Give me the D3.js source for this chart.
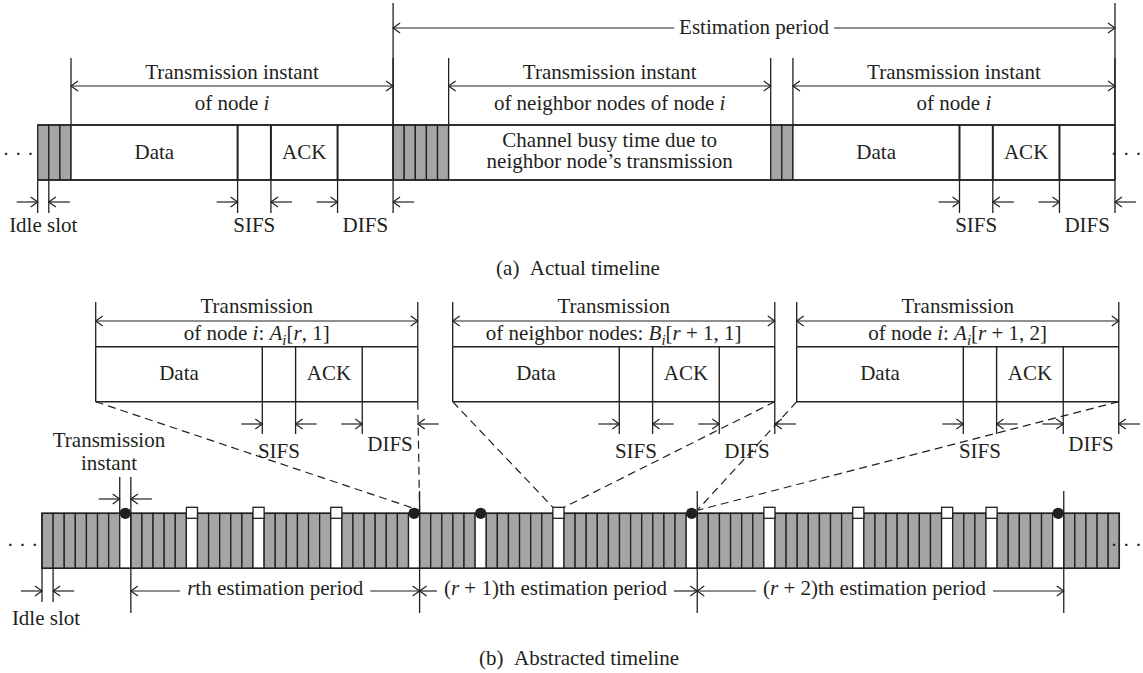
<!DOCTYPE html>
<html>
<head>
<meta charset="utf-8">
<script src="https://cdn.jsdelivr.net/npm/d3@7"></script>
<style>
  body { margin: 0; background: #fff; }
  svg { display: block; }
  text { font-family: "Liberation Serif", "Times New Roman", serif; font-size: 21px; fill: #231f20; white-space: pre; }
</style>
</head>
<body>
<svg id="chart" width="1143" height="673"></svg>
<script>
const INK = "#231f20";
const GREY = "#a5a5a5";

// One frame exchange, in slot units
const frameParts = ["Data", "SIFS", "ACK", "DIFS"];
const frameSlots = [15, 3, 6, 5];

// (a) actual timeline: runs of slots
const actualKinds = ["idle", "tx", "idle", "busy", "idle", "tx"];
const actualSlots = [3, 29, 5, 29, 2, 29];
const actualSpanTitles = [
  null,
  [["of node ", ""], ["i", "i"]],
  null,
  [["of neighbor nodes of node ", ""], ["i", "i"]],
  null,
  [["of node ", ""], ["i", "i"]]
];
const busyLines = ["Channel busy time due to", "neighbor node\u2019s transmission"];

// (b) abstracted timeline
const slotCount = 97;
const ownTxSlots = [7, 33, 39, 58, 91];
const neighborTxSlots = [13, 19, 26, 46, 65, 73, 81, 85];
const periodEndSlots = [7, 33, 58, 91];
const periodLabels = [
  [["r", "i"], ["th estimation period", ""]],
  [["(", ""], ["r", "i"], [" + 1)th estimation period", ""]],
  [["(", ""], ["r", "i"], [" + 2)th estimation period", ""]]
];
const zoomTargetSlots = [33, 46, 58];
const zoomTitles = [
  [["of node ", ""], ["i", "i"], [": ", ""], ["A", "i"], ["i", "s"], ["[", ""], ["r", "i"], [", 1]", ""]],
  [["of neighbor nodes: ", ""], ["B", "i"], ["i", "s"], ["[", ""], ["r", "i"], [" + 1, 1]", ""]],
  [["of node ", ""], ["i", "i"], [": ", ""], ["A", "i"], ["i", "s"], ["[", ""], ["r", "i"], [" + 1, 2]", ""]]
];

// ---- layout ----
const slotW = 11.106;
const xa = d3.scaleLinear().domain([0, slotCount]).range([37.7, 37.7 + slotCount * slotW]);
const xb = d3.scaleLinear().domain([0, slotCount]).range([42, 42 + slotCount * slotW]);
const frameTotal = d3.sum(frameSlots);
const xf = d3.scaleLinear().domain([0, frameTotal]).range([0, frameTotal * slotW]);
const zoomBoxLeft = [95.7, 452.7, 796.7];

const A = { estY: 28, estTop: 3, estLab: 33.5, spanY: 86, spanTop: 58, l1: 78.5, l2: 110,
            top: 125, bot: 180, markBot: 213, markY: 202, markLab: 232, caption: 275 };
const B = { l1: 313, arrowY: 321, l2: 340, spanTop: 302, top: 346.7, bot: 401.7,
            markBot: 434, markY: 424, sifsLab: 458, difsLab: [451, 458, 451] };
const C = { tiL1: 446.7, tiL2: 470, tiY: 499, tiTop: 477, top: 513.3, bot: 568.3,
            markBot: 602, markY: 591, perTop: 491, perBot: 613, lab: 595, idleLab: 625, caption: 665 };

const svg = d3.select("#chart");
const g = svg.append("g");

// ---- drawing helpers ----
function line(x0, y0, x1, y1, w = 1.3, dash = null) {
  const l = g.append("line").attr("x1", x0).attr("y1", y0).attr("x2", x1).attr("y2", y1)
    .attr("stroke", INK).attr("stroke-width", w);
  if (dash) l.attr("stroke-dasharray", dash);
  return l;
}
function head(x, y, dir, len = 7, hw = 5) {
  g.append("path")
    .attr("d", `M${x - dir * len},${y - hw}L${x},${y}L${x - dir * len},${y + hw}`)
    .attr("fill", "none").attr("stroke", INK).attr("stroke-width", 1.2);
}
// arrows pointing inwards at a gap: ->| ... |<-
function gapMarks(xl, xr, y, out = 21) {
  line(xl - out, y, xl, y, 1.2); head(xl, y, 1);
  line(xr, y, xr + out, y, 1.2); head(xr, y, -1);
}
// double arrow spanning a range
function spanArrow(xl, xr, y) {
  line(xl, y, xr, y, 1.2); head(xl, y, -1); head(xr, y, 1);
}
function rich(x, y, parts, anchor = "middle") {
  const t = g.append("text").attr("x", x).attr("y", y).attr("text-anchor", anchor);
  let shift = 0;
  parts.forEach(([s, st]) => {
    const ts = t.append("tspan").text(s);
    if (st === "i" || st === "s") ts.attr("font-style", "italic");
    const want = st === "s" ? 5 : 0;
    if (want !== shift) { ts.attr("dy", want - shift); shift = want; }
    if (st === "s") ts.attr("font-size", 15);
  });
  return t;
}
function label(x, y, s, anchor = "middle") {
  return g.append("text").attr("x", x).attr("y", y).attr("text-anchor", anchor).text(s);
}
// labelled arrow run: |<---- text ---->|
function periodArrow(x0, x1, y, baseY, parts, offset = 0, gap = 6) {
  const mid = (x0 + x1) / 2 + offset;
  const t = rich(mid, baseY, parts);
  const w = t.node().getComputedTextLength();
  line(x0, y, mid - w / 2 - gap, y, 1.2); head(x0, y, -1);
  line(mid + w / 2 + gap, y, x1, y, 1.2); head(x1, y, 1);
}

// one frame exchange drawn as a box (Data | SIFS | ACK | DIFS)
function frameBox(x0, top, bot, thick) {
  let acc = 0;
  const edges = [x0];
  frameSlots.forEach((n, i) => {
    const xl = x0 + xf(acc), xr = x0 + xf(acc + n);
    g.append("rect").attr("x", xl).attr("y", top).attr("width", xr - xl).attr("height", bot - top)
      .attr("fill", "#fff").attr("stroke", "none");
    if (frameParts[i] === "Data" || frameParts[i] === "ACK")
      label((xl + xr) / 2, (top + bot) / 2 + 6, frameParts[i]);
    acc += n;
    edges.push(xr);
  });
  line(x0, top, edges[4], top, 1.4);
  line(x0, bot, edges[4], bot, 1.4);
  line(x0, top, x0, bot, 1.4);
  line(edges[4], top, edges[4], bot, 1.4);
  [1, 2, 3].forEach(k => line(edges[k], top, edges[k], bot, thick));
  return edges;
}

// ======== (a) Actual timeline ========
let cursor = 0;
const runs = actualKinds.map((k, i) => {
  const r = { kind: k, s0: cursor, s1: cursor + actualSlots[i], title: actualSpanTitles[i] };
  cursor += actualSlots[i];
  return r;
});

runs.forEach(r => {
  const x0 = xa(r.s0), x1 = xa(r.s1);
  if (r.kind === "idle") {
    d3.range(r.s0, r.s1).forEach(s => {
      g.append("rect").attr("x", xa(s)).attr("y", A.top).attr("width", slotW).attr("height", A.bot - A.top)
        .attr("fill", GREY).attr("stroke", INK).attr("stroke-width", 1.3);
    });
  } else if (r.kind === "busy") {
    g.append("rect").attr("x", x0).attr("y", A.top).attr("width", x1 - x0).attr("height", A.bot - A.top)
      .attr("fill", "#fff").attr("stroke", INK).attr("stroke-width", 1.4);
    busyLines.forEach((s, k) => label((x0 + x1) / 2, k === 0 ? 146.7 : 168.3, s));
  } else {
    const e = frameBox(x0, A.top, A.bot, 2);
    // SIFS and DIFS extents below the strip
    [e[1], e[2], e[3]].forEach(x => line(x, A.bot, x, A.markBot));
    gapMarks(e[1], e[2], A.markY);
    gapMarks(e[3], e[4], A.markY);
    label((e[1] + e[2]) / 2, A.markLab, "SIFS");
    label((e[3] + e[4]) / 2, A.markLab, "DIFS");
  }
  if (r.title) {
    line(x0, A.spanTop, x0, A.top);
    line(x1, A.spanTop, x1, A.top);
    spanArrow(x0, x1, A.spanY);
    label((x0 + x1) / 2, A.l1, "Transmission instant");
    rich((x0 + x1) / 2, A.l2, r.title);
  }
});

// strip outline
line(xa(0), A.top, xa(cursor), A.top, 1.4);
line(xa(0), A.bot, xa(cursor), A.bot, 1.4);

// estimation period of (a): from end of the first own frame to the end of the next
const estX0 = xa(runs[1].s1), estX1 = xa(runs[5].s1);
line(estX0, A.estTop, estX0, A.markBot);
line(estX1, A.estTop, estX1, A.markBot);
periodArrow(estX0, estX1, A.estY, A.estLab, [["Estimation period", ""]], 0, 5);

// idle slot marker
line(xa(0), A.bot, xa(0), A.markBot);
line(xa(1), A.bot, xa(1), A.markBot);
gapMarks(xa(0), xa(1), A.markY);
label(xa(0.5), A.markLab, "Idle slot");

label(18.3, 161, "\u00b7 \u00b7 \u00b7");
label(1142, 161, "\u00b7 \u00b7 \u00b7", "end");
label(578, A.caption, "(a)\u2002Actual timeline");

// ======== (b) Abstracted timeline: zoomed frames ========
const zoomEdges = zoomBoxLeft.map((x0, i) => {
  const e = frameBox(x0, B.top, B.bot, 1.4);
  line(e[0], B.spanTop, e[0], B.top);
  line(e[4], B.spanTop, e[4], B.top);
  spanArrow(e[0], e[4], B.arrowY);
  label((e[0] + e[4]) / 2, B.l1, "Transmission");
  rich((e[0] + e[4]) / 2, B.l2, zoomTitles[i]);
  [e[1], e[2], e[3]].forEach(x => line(x, B.bot, x, B.markBot));
  if (i > 0) line(e[4], B.bot, e[4], B.markBot);
  gapMarks(e[1], e[2], B.markY);
  gapMarks(e[3], e[4], B.markY);
  label((e[1] + e[2]) / 2, B.sifsLab, "SIFS");
  label((e[3] + e[4]) / 2, B.difsLab[i], "DIFS");
  return e;
});

// ======== (b) slot strip ========
const ownSet = new Set(ownTxSlots), nbSet = new Set(neighborTxSlots);
d3.range(slotCount).forEach(s => {
  const busy = ownSet.has(s) || nbSet.has(s);
  g.append("rect").attr("x", xb(s)).attr("y", C.top).attr("width", slotW).attr("height", C.bot - C.top)
    .attr("fill", busy ? "#fff" : GREY).attr("stroke", INK).attr("stroke-width", 1.3);
});
g.append("rect").attr("x", xb(0)).attr("y", C.top).attr("width", xb(slotCount) - xb(0)).attr("height", C.bot - C.top)
  .attr("fill", "none").attr("stroke", INK).attr("stroke-width", 1.5);

// projection lines from each zoomed frame to its slot
zoomTargetSlots.forEach((s, i) => {
  const e = zoomEdges[i];
  const dash = "8,5";
  if (nbSet.has(s)) {
    line(e[0], B.bot, xb(s), C.top - 6, 1.2, dash);
    line(e[4], B.bot, xb(s + 1), C.top - 6, 1.2, dash);
  } else {
    line(e[0], B.bot, xb(s + 1), C.top - 3, 1.2, dash);
    line(e[4], B.bot, xb(s + 1), C.top - 3, 1.2, dash);
  }
});

// estimation period boundaries
periodEndSlots.forEach((s, k) => {
  const x = xb(s + 1);
  line(x, k === 0 ? C.tiTop : C.perTop, x, C.perBot);
});
periodLabels.forEach((p, k) => {
  periodArrow(xb(periodEndSlots[k] + 1), xb(periodEndSlots[k + 1] + 1), C.markY, C.lab, p, [0, -3, -6][k], 7);
});

// transmission markers: neighbours as squares, own node as dots
neighborTxSlots.forEach(s => {
  g.append("rect").attr("x", xb(s)).attr("y", C.top - 6).attr("width", slotW).attr("height", 11)
    .attr("fill", "#fff").attr("stroke", INK).attr("stroke-width", 1.3);
});
ownTxSlots.forEach(s => {
  g.append("circle").attr("cx", xb(s + 0.5)).attr("cy", C.top).attr("r", 5.6).attr("fill", INK);
});

// transmission instant marker on the first own slot
const ti = ownTxSlots[0];
line(xb(ti), C.tiTop, xb(ti), C.top);
gapMarks(xb(ti), xb(ti + 1), C.tiY);
label(109, C.tiL1, "Transmission");
label(109, C.tiL2, "instant");

// idle slot marker
line(xb(0), C.bot, xb(0), C.markBot);
line(xb(1), C.bot, xb(1), C.markBot);
gapMarks(xb(0), xb(1), C.markY);
label(46, C.idleLab, "Idle slot");

label(22.5, 552, "\u00b7 \u00b7 \u00b7");
label(1142, 552, "\u00b7 \u00b7 \u00b7", "end");
label(579, C.caption, "(b)\u2002Abstracted timeline");
</script>
</body>
</html>
